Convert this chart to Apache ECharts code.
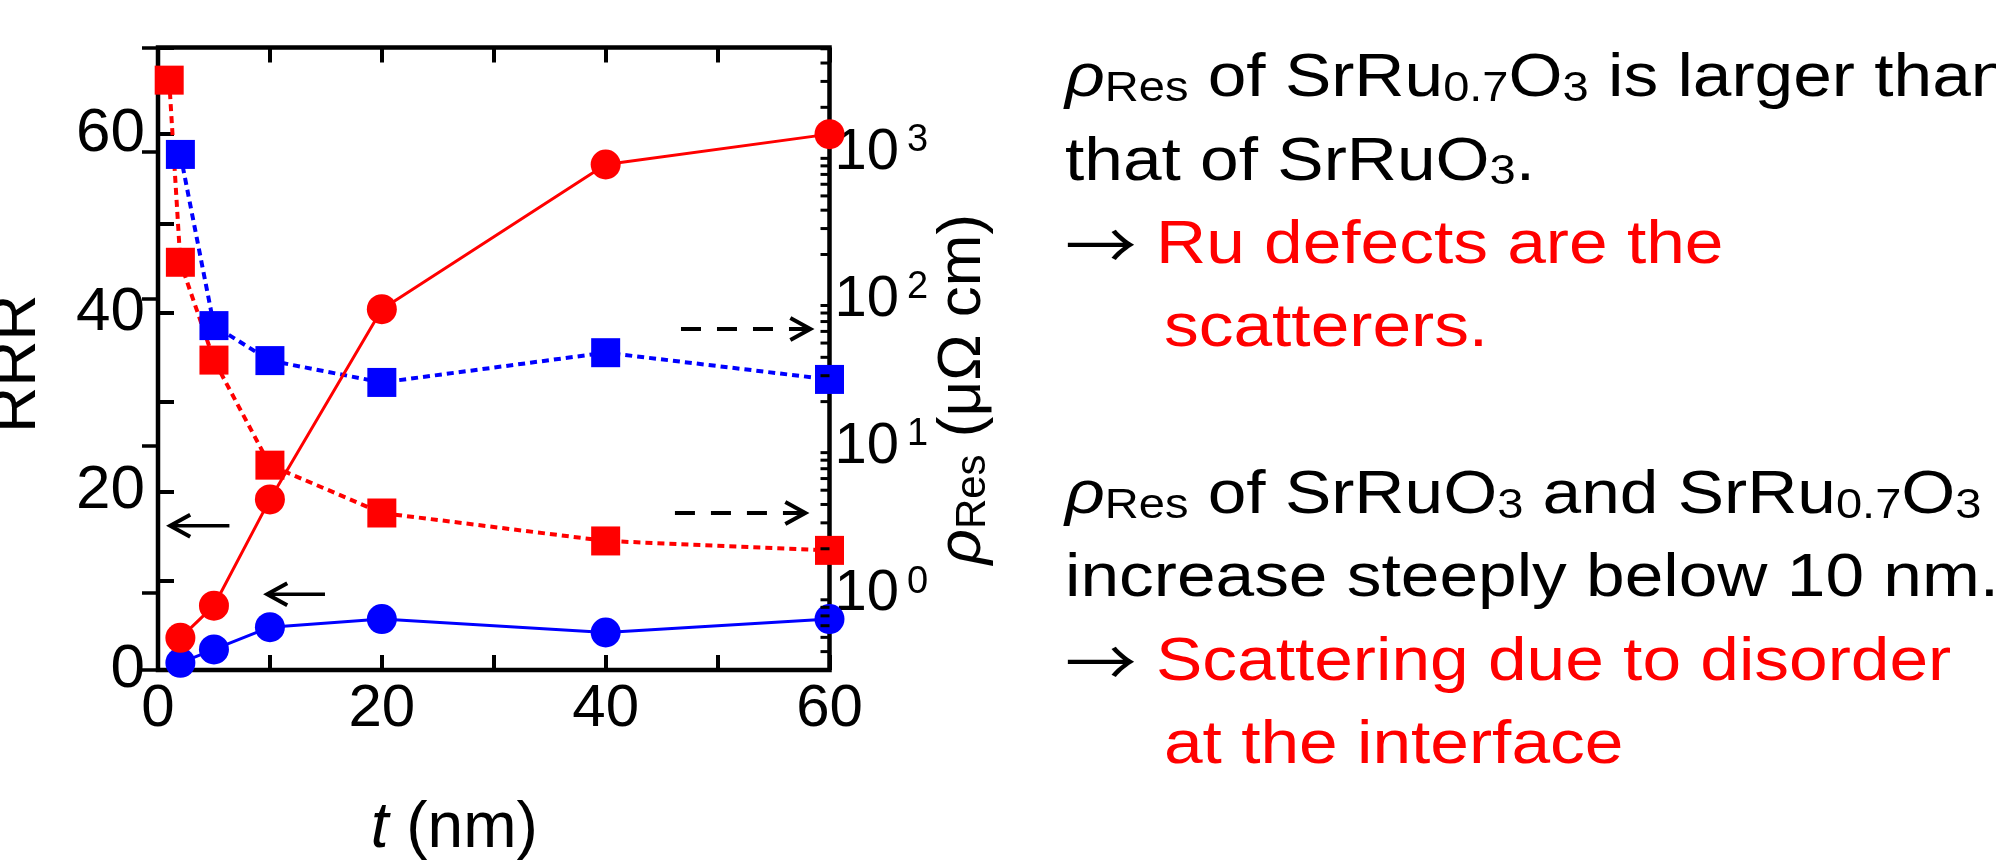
<!DOCTYPE html>
<html>
<head>
<meta charset="utf-8">
<script src="https://cdn.jsdelivr.net/npm/echarts@6/dist/echarts.min.js"></script>
<style>
  html, body { margin: 0; padding: 0; background: #ffffff; }
  #chart { width: 1996px; height: 864px; }
</style>
</head>
<body>
<div id="chart"></div>
<script>
// Film thickness t (nm)
const tResSrRuO3 = [1, 2, 5, 10, 20, 40, 60];
const tResSrRu07O3 = [2, 5, 10, 20, 40, 60];
const tRRR = [2, 5, 10, 20, 40, 60];

// Residual resistivity rho_Res (μΩ cm), right log axis
const resSrRuO3 = [3060, 177, 38.3, 7.4, 3.5, 2.26, 1.95];
const resSrRu07O3 = [957, 65.7, 38.0, 27.0, 43.0, 28.3];

// Residual resistivity ratio, left axis
const rrrSrRuO3 = [3.6, 7.2, 19.1, 40.4, 56.6, 60.0];
const rrrSrRu07O3 = [0.8, 2.3, 4.8, 5.7, 4.2, 5.7];

// Tick labels
const tTickLabels = [0, 20, 40, 60];
const rrrTickLabels = [0, 20, 40, 60];
const resTickExponents = [0, 1, 2, 3];

// Arrows telling which axis each curve belongs to: [t1, y1, t2, y2]
const rrrArrows = [[6.38, 16.16, 1.09, 16.16], [14.92, 8.48, 9.76, 8.48]];
const resArrows = [[46.73, 62.2, 58.29, 62.2], [46.19, 3.5, 57.84, 3.5]];

const FONT = "'Liberation Sans', Arial, Helvetica, sans-serif";
const RED = '#ff0000';
const BLUE = '#0000ff';
const RRR_MAX = 69.7;
const RES_MIN = 0.3, RES_MAX = 5100;

const zip = (xs, ys) => xs.map((x, i) => [x, ys[i]]);

// log-axis minor ticks at 2..9 x 10^n
const resMinorTicks = [];
for (let e = -1; e <= 3; e++) {
  for (let m = 2; m <= 9; m++) {
    const v = m * Math.pow(10, e);
    if (v > RES_MIN && v < RES_MAX) resMinorTicks.push([60, v]);
  }
}

const txt = (o) => Object.assign({ fontFamily: FONT, color: '#000' }, o);
const gtxt = (o) => Object.assign({ fontFamily: FONT, fill: '#000' }, o);

// rich styles for the rotated axis title (ECharts text style)
const richTitle = {
  n: txt({ fontSize: 62, lineHeight: 70, verticalAlign: 'bottom' }),
  i: txt({ fontSize: 62, lineHeight: 70, verticalAlign: 'bottom', fontStyle: 'italic' }),
  s: txt({ fontSize: 42, lineHeight: 23, verticalAlign: 'bottom' })
};

// rich styles for the notes on the right (zrender text style)
const richNote = {
  n: gtxt({ fontSize: 62, lineHeight: 70, verticalAlign: 'bottom' }),
  i: gtxt({ fontSize: 62, lineHeight: 70, verticalAlign: 'bottom', fontStyle: 'italic' }),
  s: gtxt({ fontSize: 42, lineHeight: 23, verticalAlign: 'bottom' }),
  r: gtxt({ fontSize: 62, lineHeight: 70, verticalAlign: 'bottom', fill: RED }),
  a: gtxt({ fontSize: 64, lineHeight: 70, verticalAlign: 'bottom', fontFamily: "'Noto Sans CJK JP', 'Noto Sans CJK SC', sans-serif" })
};

function arrowRenderer(dashed) {
  return function (params, api) {
    const a = api.coord([api.value(0), api.value(1)]);
    const b = api.coord([api.value(2), api.value(3)]);
    const dx = b[0] - a[0], dy = b[1] - a[1];
    const len = Math.hypot(dx, dy);
    const ux = dx / len, uy = dy / len;
    const hl = 20, hw = 11;
    const head = [
      [b[0] - ux * hl - uy * hw, b[1] - uy * hl + ux * hw],
      [b[0], b[1]],
      [b[0] - ux * hl + uy * hw, b[1] - uy * hl - ux * hw]
    ];
    return {
      type: 'group',
      children: [
        {
          type: 'line',
          shape: { x1: a[0], y1: a[1], x2: b[0] - ux * 2, y2: b[1] - uy * 2 },
          style: { stroke: '#000', lineWidth: dashed ? 4 : 3.5, lineDash: dashed ? [20, 16] : null }
        },
        {
          type: 'polyline',
          shape: { points: head },
          style: { stroke: '#000', fill: null, lineWidth: 4 }
        }
      ]
    };
  };
}

const notes = [
  { x: 1065, y: 40, text: '{i|ρ}{s|Res}{n| of SrRu}{s|0.7}{n|O}{s|3}{n| is larger than}' },
  { x: 1065, y: 123.5, text: '{n|that of SrRuO}{s|3}{n|.}' },
  { x: 1065, y: 207, text: '{a|→}' },
  { x: 1156, y: 207, text: '{r|Ru defects are the}' },
  { x: 1164, y: 290, text: '{r|scatterers.}' },
  { x: 1065, y: 457, text: '{i|ρ}{s|Res}{n| of SrRuO}{s|3}{n| and SrRu}{s|0.7}{n|O}{s|3}' },
  { x: 1065, y: 540, text: '{n|increase steeply below 10 nm.}' },
  { x: 1065, y: 623.5, text: '{a|→}' },
  { x: 1156, y: 623.5, text: '{r|Scattering due to disorder}' },
  { x: 1164, y: 707, text: '{r|at the interface}' }
];

const chart = echarts.init(document.getElementById('chart'), null, { renderer: 'canvas' });

const option = {
  animation: false,
  backgroundColor: '#ffffff',
  grid: {
    left: 158, right: 1166.5, top: 47.5, bottom: 194,
    containLabel: false, outerBoundsMode: 'none',
    show: true, borderColor: '#000', borderWidth: 4.5, backgroundColor: 'transparent'
  },
  xAxis: [
    {
      type: 'value', min: 0, max: 60, interval: 10, position: 'bottom',
      axisLine: { show: false },
      axisTick: { inside: true, length: 15, lineStyle: { color: '#000', width: 4 } },
      splitLine: { show: false },
      axisLabel: {
        margin: 9, fontSize: 60, fontFamily: FONT, color: '#000',
        formatter: (v) => (tTickLabels.includes(v) ? String(v) : '')
      },
      name: '{i|t}{n| (nm)}',
      nameLocation: 'middle',
      nameGap: 121,
      nameTextStyle: {
        padding: [0, 79, 0, 0],
        rich: {
          i: txt({ fontSize: 64, lineHeight: 70, verticalAlign: 'bottom', fontStyle: 'italic' }),
          n: txt({ fontSize: 64, lineHeight: 70, verticalAlign: 'bottom' })
        }
      }
    },
    {
      type: 'value', min: 0, max: 60, interval: 10, position: 'top',
      axisLine: { show: false },
      axisTick: { inside: true, length: 15, lineStyle: { color: '#000', width: 4 } },
      axisLabel: { show: false },
      splitLine: { show: false }
    }
  ],
  yAxis: [
    {
      type: 'value', min: 0, max: RRR_MAX, interval: 10, position: 'left',
      axisLine: { show: false },
      axisTick: { inside: true, length: 16, lineStyle: { color: '#000', width: 4 } },
      splitLine: { show: false },
      axisLabel: {
        margin: 13, fontSize: 62, fontFamily: FONT, color: '#000',
        formatter: (v) => (rrrTickLabels.includes(v) ? String(v) : '')
      },
      name: 'RRR',
      nameLocation: 'middle',
      nameGap: 109,
      nameTextStyle: { fontSize: 64, fontFamily: FONT, color: '#000', padding: [0, 10, 0, 0] }
    },
    {
      type: 'log', logBase: 10, min: RES_MIN, max: RES_MAX, position: 'right',
      axisLine: { show: false },
      axisTick: { inside: true, length: 16, lineStyle: { color: '#000', width: 3.5 } },
      splitLine: { show: false },
      axisLabel: {
        margin: 5,
        formatter: (v) => {
          const e = Math.round(Math.log10(v));
          if (Math.abs(Math.log10(v) - e) > 1e-6 || !resTickExponents.includes(e)) return '';
          return '{b|10}{s|' + e + '}';
        },
        rich: {
          b: txt({ fontSize: 58, lineHeight: 60, verticalAlign: 'bottom' }),
          s: txt({ fontSize: 38, lineHeight: 38, verticalAlign: 'top', padding: [0, 0, 0, 8] })
        }
      },
      name: '{i|ρ}{s|Res}{n| (μΩ cm)}',
      nameLocation: 'middle',
      nameGap: 92,
      nameTextStyle: {
        padding: [0, 61, 0, 0],
        rich: richTitle
      }
    }
  ],
  series: [
    {
      name: 'ρRes SrRu0.7O3', type: 'line', xAxisIndex: 0, yAxisIndex: 1,
      data: zip(tResSrRu07O3, resSrRu07O3),
      symbol: 'rect', symbolSize: 29, showAllSymbol: true,
      itemStyle: { color: BLUE },
      lineStyle: { color: BLUE, width: 4, type: [7, 5] },
      z: 3
    },
    {
      name: 'ρRes SrRuO3', type: 'line', xAxisIndex: 0, yAxisIndex: 1,
      data: zip(tResSrRuO3, resSrRuO3),
      symbol: 'rect', symbolSize: 29, showAllSymbol: true,
      itemStyle: { color: RED },
      lineStyle: { color: RED, width: 4, type: [7, 5] },
      z: 3
    },
    {
      name: 'RRR SrRu0.7O3', type: 'line', xAxisIndex: 0, yAxisIndex: 0,
      data: zip(tRRR, rrrSrRu07O3),
      symbol: 'circle', symbolSize: 30, showAllSymbol: true,
      itemStyle: { color: BLUE },
      lineStyle: { color: BLUE, width: 3 },
      z: 4
    },
    {
      name: 'RRR SrRuO3', type: 'line', xAxisIndex: 0, yAxisIndex: 0,
      data: zip(tRRR, rrrSrRuO3),
      symbol: 'circle', symbolSize: 30, showAllSymbol: true,
      itemStyle: { color: RED },
      lineStyle: { color: RED, width: 3 },
      z: 4
    },
    {
      name: 'minor ticks', type: 'custom', xAxisIndex: 0, yAxisIndex: 1,
      silent: true, clip: false, z: 5,
      data: resMinorTicks,
      encode: { x: 0, y: 1 },
      renderItem: (params, api) => {
        const p = api.coord([api.value(0), api.value(1)]);
        return {
          type: 'line',
          shape: { x1: p[0], y1: p[1], x2: p[0] - 9, y2: p[1] },
          style: { stroke: '#000', lineWidth: 3 }
        };
      }
    },
    {
      name: 'RRR arrows', type: 'custom', xAxisIndex: 0, yAxisIndex: 0,
      silent: true, z: 5,
      data: rrrArrows,
      encode: { x: [0, 2], y: [1, 3] },
      renderItem: arrowRenderer(false)
    },
    {
      name: 'ρRes arrows', type: 'custom', xAxisIndex: 0, yAxisIndex: 1,
      silent: true, z: 5,
      data: resArrows,
      encode: { x: [0, 2], y: [1, 3] },
      renderItem: arrowRenderer(true)
    }
  ],
  graphic: notes.map((l) => ({
    type: 'text',
    x: l.x, y: l.y, scaleX: 1.12,
    style: { legacy: false, text: l.text, rich: richNote, align: 'left', verticalAlign: 'top' }
  }))
};

chart.setOption(option);
</script>
</body>
</html>
